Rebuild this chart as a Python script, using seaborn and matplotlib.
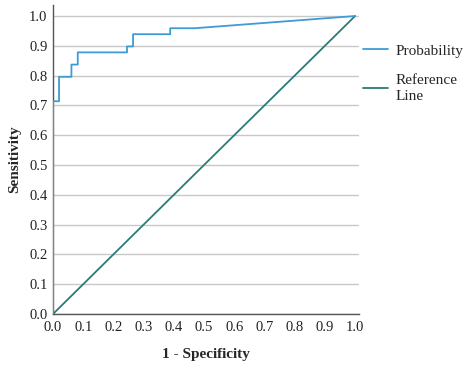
import numpy as np
import pandas as pd
import matplotlib
matplotlib.use('Agg')
import matplotlib.pyplot as plt
import seaborn as sns

# ROC curve vertices
fpr = [0.0, 0.0, 0.020, 0.020, 0.061, 0.061, 0.082, 0.082, 0.245, 0.245,
       0.265, 0.265, 0.388, 0.388, 0.469, 1.0]
tpr = [0.0, 0.714, 0.714, 0.796, 0.796, 0.837, 0.837, 0.878, 0.878, 0.898,
       0.898, 0.939, 0.939, 0.959, 0.959, 1.0]
ref_x = [0.0, 1.0]
ref_y = [0.0, 1.0]
ticks = [0.0, 0.1, 0.2, 0.3, 0.4, 0.5, 0.6, 0.7, 0.8, 0.9, 1.0]

sns.set_style('white')
plt.rcParams['font.family'] = ['Liberation Serif', 'DejaVu Serif']

fig = plt.figure(figsize=(4.66, 3.65), dpi=100)
ax = fig.add_axes([53 / 466, 51 / 365, 306 / 466, 309 / 365])

roc_df = pd.DataFrame({'x': fpr, 'y': tpr})
ref_df = pd.DataFrame({'x': ref_x, 'y': ref_y})

sns.lineplot(data=roc_df, x='x', y='y', sort=False, estimator=None,
             color='#3d9bd5', linewidth=1.3, label='Probability', ax=ax, zorder=3)
sns.lineplot(data=ref_df, x='x', y='y', sort=False, estimator=None,
             color='#2b7b78', linewidth=1.3, label='Reference\nLine', ax=ax, zorder=2)

ax.set_xlim(0, 1.013)
ax.set_ylim(0, 1.037)
ax.set_xticks(ticks)
ax.set_yticks(ticks)
ax.set_xticklabels([f'{t:.1f}' for t in ticks], fontsize=10.5, color='#222222')
ax.set_yticklabels([f'{t:.1f}' for t in ticks], fontsize=10.5, color='#222222')
ax.tick_params(axis='x', length=0, pad=5)
ax.tick_params(axis='y', length=0, pad=4)

ax.yaxis.grid(True, color='#c8c8c8', linewidth=1)
ax.xaxis.grid(False)
ax.set_axisbelow(True)
for side in ['top', 'right']:
    ax.spines[side].set_visible(False)
for side in ['left', 'bottom']:
    ax.spines[side].set_color('#555555')
    ax.spines[side].set_linewidth(1)

ax.set_xlabel('1 - Specificity', fontsize=11, fontweight='bold', labelpad=10)
ax.set_ylabel('Sensitivity', fontsize=11, fontweight='bold', labelpad=6)

ax.get_legend().remove()
fig.legend(*ax.get_legend_handles_labels(), loc='upper left',
           bbox_to_anchor=(363 / 466, (365 - 44) / 365), frameon=False,
           fontsize=11, handlelength=1.65, handletextpad=0.45,
           labelspacing=1.05, borderaxespad=0, borderpad=0)
plt.setp(fig.legends[0].get_texts(), linespacing=1.35)

fig.savefig('out.png', dpi=100)
